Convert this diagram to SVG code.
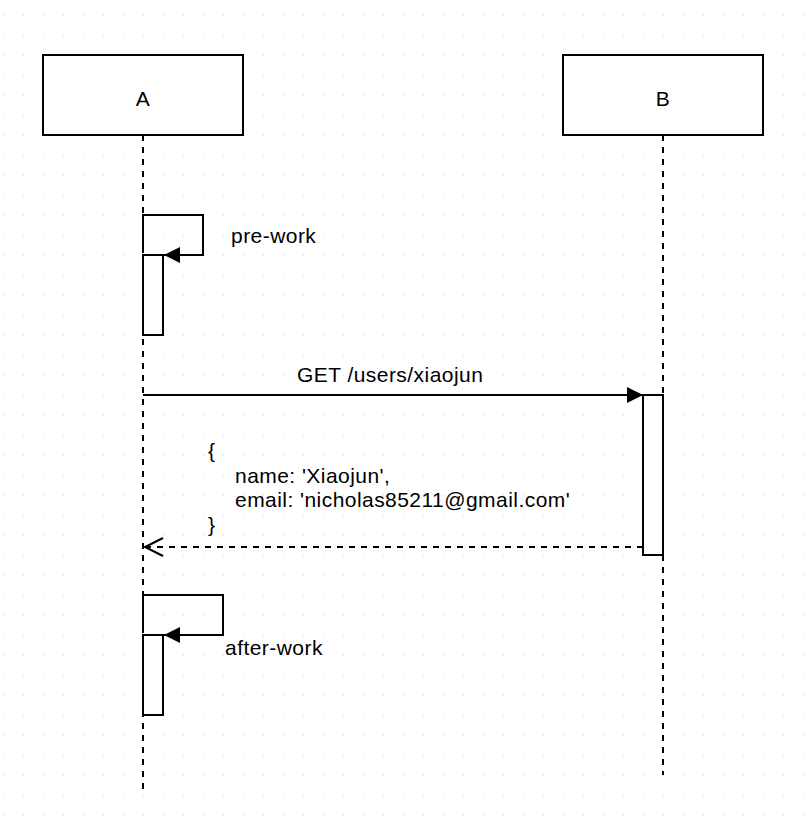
<svg xmlns="http://www.w3.org/2000/svg" width="808" height="832" viewBox="0 0 808 832">
  <defs>
    <pattern id="grid" patternUnits="userSpaceOnUse" x="3" y="15" width="20" height="20">
      <rect x="0" y="0" width="1" height="1" fill="#d6d6d6"/>
    </pattern>
    <marker id="block" markerUnits="userSpaceOnUse" markerWidth="20" markerHeight="20" viewBox="0 0 20 20" refX="17" refY="10" orient="auto">
      <path d="M1,2 L17,10 L1,18 Z" fill="#000"/>
    </marker>
    <marker id="open" markerUnits="userSpaceOnUse" markerWidth="24" markerHeight="24" viewBox="0 0 24 24" refX="20" refY="12" orient="auto">
      <path d="M2,3 L20,12 L2,21" fill="none" stroke="#000" stroke-width="2"/>
    </marker>
    <style>
      .box { fill: #fff; stroke: #000; stroke-width: 2; }
      .act { fill: #fff; stroke: #000; stroke-width: 2; }
      .life { fill: none; stroke: #000; stroke-width: 2; stroke-dasharray: 6 6; }
      .msg { fill: none; stroke: #000; stroke-width: 2; }
      .ret { fill: none; stroke: #000; stroke-width: 2; stroke-dasharray: 6 6; }
      text { font-family: "Liberation Sans", Arial, Helvetica, sans-serif; font-size: 21px; letter-spacing: 0.45px; fill: #000; }
    </style>
  </defs>
  <rect width="808" height="832" fill="#fff"/>
  <rect width="808" height="832" fill="url(#grid)"/>

  <g id="lifelines">
    <line class="life" x1="143" y1="135" x2="143" y2="789"/>
    <line class="life" x1="663" y1="135" x2="663" y2="775"/>
  </g>

  <g id="A">
    <rect class="box" x="43" y="55" width="200" height="80"/>
    <text x="143" y="106" text-anchor="middle">A</text>
  </g>
  <g id="B">
    <rect class="box" x="563" y="55" width="200" height="80"/>
    <text x="663" y="106" text-anchor="middle">B</text>
  </g>

  <g id="act-prework">
    <rect class="act" x="143" y="255" width="20" height="80"/>
  </g>
  <g id="act-B">
    <rect class="act" x="643" y="395" width="20" height="160"/>
  </g>
  <g id="act-afterwork">
    <rect class="act" x="143" y="635" width="20" height="80"/>
  </g>

  <g id="connectors">
    <path class="msg" d="M143,253 V215 H203 V255 H164" marker-end="url(#block)"/>
    <path class="msg" d="M143,395 H643" marker-end="url(#block)"/>
    <path class="ret" d="M643,547 H145" marker-end="url(#open)"/>
    <path class="msg" d="M143,633 V595 H223 V635 H164" marker-end="url(#block)"/>
  </g>

  <g id="labels">
    <text x="231" y="243">pre-work</text>
    <text x="297" y="382">GET /users/xiaojun</text>
    <text x="208" y="458">{</text>
    <text x="235" y="482.7">name: 'Xiaojun',</text>
    <text x="235" y="507.3">email: 'nicholas85211@gmail.com'</text>
    <text x="208" y="532">}</text>
    <text x="225" y="655">after-work</text>
  </g>
</svg>
